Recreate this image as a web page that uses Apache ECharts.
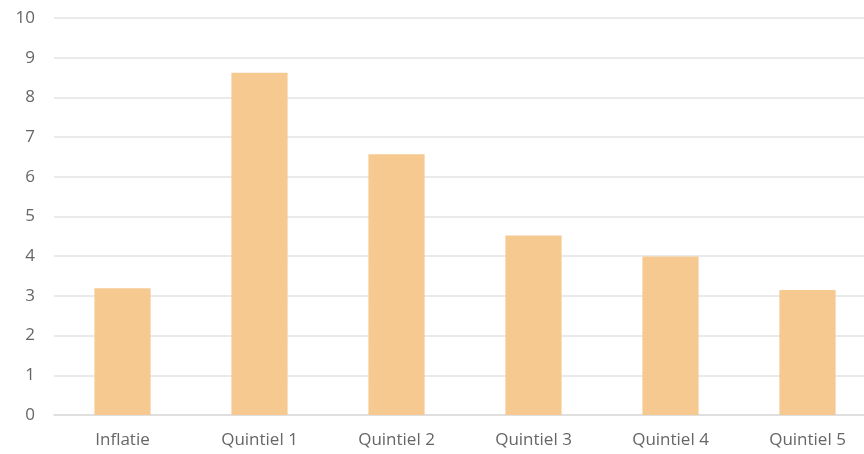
<!DOCTYPE html>
<html>
<head>
<meta charset="utf-8">
<script src="https://cdn.jsdelivr.net/npm/echarts@6/dist/echarts.min.js"></script>
<style>
  html, body { margin: 0; padding: 0; background: #ffffff; }
  #chart { width: 864px; height: 454px; }
</style>
</head>
<body>
<div id="chart"></div>
<script>
// Categories and values (percent)
const categories = ['Inflatie', 'Quintiel 1', 'Quintiel 2', 'Quintiel 3', 'Quintiel 4', 'Quintiel 5'];
const values = [3.19, 8.62, 6.57, 4.52, 3.99, 3.15];
const yTicks = [0, 1, 2, 3, 4, 5, 6, 7, 8, 9, 10];

const chart = echarts.init(document.getElementById('chart'), null, { renderer: 'canvas' });

chart.setOption({
  animation: false,
  backgroundColor: '#ffffff',
  grid: { left: 54, top: 18, width: 822, height: 397, containLabel: false, outerBoundsMode: 'none' },
  xAxis: {
    type: 'category',
    data: categories,
    axisLine: { show: true, lineStyle: { color: '#dcdcdc', width: 1.5 } },
    axisTick: { show: false },
    axisLabel: { color: '#666666', fontFamily: 'Open Sans', fontSize: 17, margin: 17 }
  },
  yAxis: {
    type: 'value',
    min: yTicks[0],
    max: yTicks[yTicks.length - 1],
    interval: 1,
    axisLine: { show: false },
    axisTick: { show: false },
    axisLabel: { color: '#666666', fontFamily: 'Open Sans', fontSize: 17, margin: 19 },
    splitLine: { lineStyle: { color: '#e3e3e3', width: 1.5 } }
  },
  series: [{
    type: 'bar',
    data: values,
    barWidth: '41%',
    itemStyle: { color: '#f5c98f' }
  }]
});
</script>
</body>
</html>
